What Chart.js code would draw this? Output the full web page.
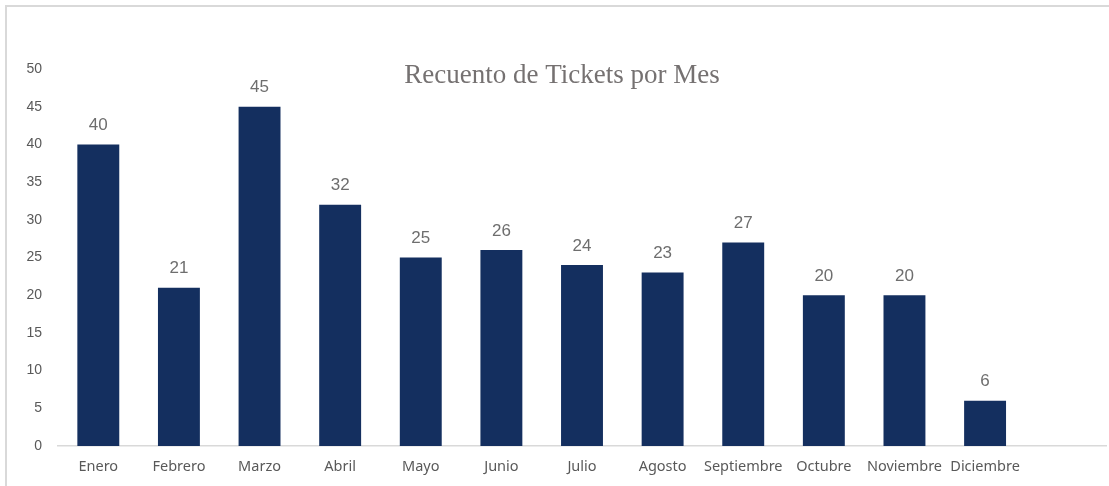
<!DOCTYPE html>
<html>
<head>
<meta charset="utf-8">
<script src="https://cdn.jsdelivr.net/npm/chart.js@4.4.1/dist/chart.umd.min.js"></script>
<style>
  html, body { margin: 0; padding: 0; background: #fff; overflow: hidden; }
  .marco { position: absolute; left: 5px; top: 5px; width: 1200px; height: 600px; border: 2px solid #d9d9d9; box-sizing: border-box; }
  #grafico { position: absolute; left: 0; top: 0; }
</style>
</head>
<body>
<div class="marco"></div>
<canvas id="grafico" width="1109" height="486"></canvas>
<script>
// Datos del gráfico
const meses = ["Enero", "Febrero", "Marzo", "Abril", "Mayo", "Junio", "Julio", "Agosto",
               "Septiembre", "Octubre", "Noviembre", "Diciembre", ""];
const tickets = [40, 21, 45, 32, 25, 26, 24, 23, 27, 20, 20, 6, null];
const titulo = "Recuento de Tickets por Mes";

const GRIS = "#595959";

// etiquetas con el valor encima de cada barra + título sobre el área del gráfico
const etiquetasPlugin = {
  id: 'etiquetas',
  afterDatasetsDraw(chart) {
    const ctx = chart.ctx;
    ctx.save();
    ctx.font = "17px 'Liberation Sans', Arial, sans-serif";
    ctx.fillStyle = "#6e6e6e";
    ctx.textAlign = "center";
    ctx.textBaseline = "middle";
    chart.getDatasetMeta(0).data.forEach((bar, i) => {
      if (tickets[i] == null) return;
      ctx.fillText(tickets[i], bar.x, bar.y - 19);
    });
    ctx.font = "27px 'Liberation Serif', 'Times New Roman', serif";
    ctx.fillStyle = "#757171";
    ctx.fillText(titulo, 562, 76);
    ctx.restore();
  }
};

new Chart(document.getElementById('grafico').getContext('2d'), {
  type: 'bar',
  data: {
    labels: meses,
    datasets: [{
      data: tickets,
      backgroundColor: "#142f5f",
      categoryPercentage: 1,
      barPercentage: 0.52
    }]
  },
  options: {
    responsive: false,
    animation: false,
    layout: { padding: { left: 0, top: 69, right: 3, bottom: 0 } },
    plugins: { legend: { display: false }, tooltip: { enabled: false } },
    scales: {
      x: {
        grid: { display: false, drawTicks: false },
        border: { color: "#d9d9d9", width: 1.5 },
        ticks: {
          color: GRIS, padding: 12, maxRotation: 0, autoSkip: false,
          font: { family: "'Noto Sans', 'Open Sans', sans-serif", size: 14.5 }
        },
        afterFit(scale) { scale.height = 40; }
      },
      y: {
        min: 0, max: 50,
        grid: { display: false, drawTicks: false },
        border: { display: false },
        ticks: {
          stepSize: 5, color: GRIS, padding: 16,
          font: { family: "'Liberation Sans', Arial, sans-serif", size: 14 }
        },
        afterFit(scale) { scale.width = 58; }
      }
    }
  },
  plugins: [etiquetasPlugin]
});
</script>
</body>
</html>
